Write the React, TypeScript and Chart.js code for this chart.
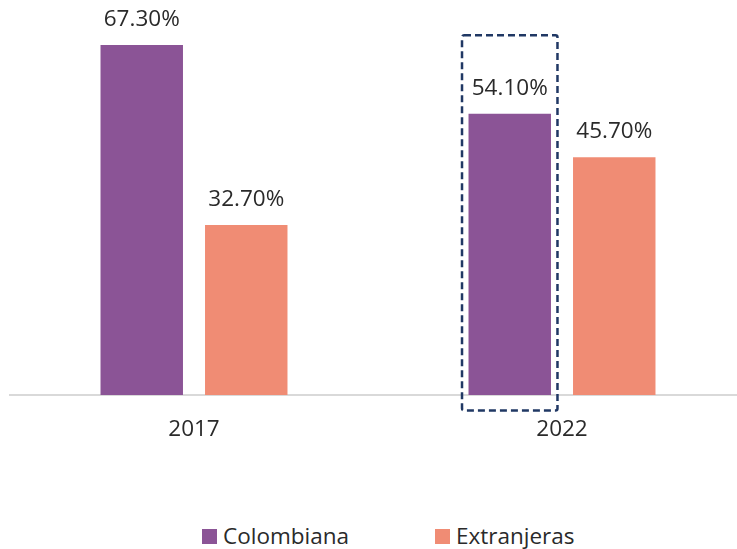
import React, { useEffect, useRef } from "react";
import { Chart, registerables } from "chart.js";

Chart.register(...registerables);

const categories = ["2017", "2022"];
const seriesNames = ["Colombiana", "Extranjeras"];
const colombiana = [67.3, 54.1];
const extranjeras = [32.7, 45.7];
const colors = ["#8B5496", "#F08C74"];
const highlightSeries = 0;
const highlightCategory = 1;

const FONT = "'Open Sans', 'Noto Sans', sans-serif";
const TEXT = "#2a2a2a";

const labelPlugin = {
  id: "valueLabels",
  afterDatasetsDraw(chart: any) {
    const ctx = chart.ctx;
    ctx.save();
    ctx.font = `22.5px ${FONT}`;
    ctx.fillStyle = TEXT;
    ctx.textAlign = "center";
    ctx.textBaseline = "alphabetic";
    chart.data.datasets.forEach((ds: any, di: number) => {
      const meta = chart.getDatasetMeta(di);
      meta.data.forEach((bar: any, i: number) => {
        const v = ds.data[i];
        ctx.fillText(v.toFixed(2) + "%", bar.x, bar.y - 19);
      });
    });
    // highlight box
    const meta = chart.getDatasetMeta(highlightSeries);
    const bar: any = meta.data[highlightCategory];
    if (bar) {
      const { x, y, width } = bar.getProps(["x", "y", "width"], true);
      const left = x - width / 2 - 6.5;
      const right = x + width / 2 + 6.5;
      const top = y - 78.5;
      const bottom = chart.chartArea.bottom + 15.5;
      ctx.strokeStyle = "#203864";
      ctx.lineWidth = 2.5;
      ctx.setLineDash([7, 4]);
      ctx.beginPath();
      if (ctx.roundRect) ctx.roundRect(left, top, right - left, bottom - top, 2);
      else ctx.rect(left, top, right - left, bottom - top);
      ctx.stroke();
    }
    ctx.restore();
  },
};

export default function App() {
  const ref = useRef<HTMLCanvasElement>(null);
  useEffect(() => {
    if (!ref.current) return;
    const chart = new Chart(ref.current, {
      type: "bar",
      data: {
        labels: categories,
        datasets: [
          {
            label: seriesNames[0],
            data: colombiana,
            backgroundColor: colors[0],
            categoryPercentage: 0.568,
            barPercentage: 0.789,
          },
          {
            label: seriesNames[1],
            data: extranjeras,
            backgroundColor: colors[1],
            categoryPercentage: 0.568,
            barPercentage: 0.789,
          },
        ],
      },
      options: {
        animation: false,
        responsive: false,
        maintainAspectRatio: false,
        layout: { padding: { top: 5, left: 10, right: 4, bottom: 0 } },
        plugins: { legend: { display: false }, tooltip: { enabled: false } },
        scales: {
          x: {
            grid: { display: false, drawTicks: false },
            border: { display: true, color: "#D9D9D9", width: 2 },
            ticks: {
              color: TEXT,
              font: { family: FONT, size: 22.5 },
              padding: 21,
              maxRotation: 0,
            },
            afterFit: (scale: any) => {
              scale.height = 75;
            },
          },
          y: {
            display: false,
            min: 0,
            max: 75,
          },
        },
      },
      plugins: [labelPlugin],
    });
    return () => chart.destroy();
  }, []);

  return (
    <div
      style={{
        position: "fixed",
        left: 0,
        top: 0,
        width: 737,
        height: 549,
        overflow: "hidden",
        background: "#fff",
      }}
    >
      <canvas ref={ref} width={750} height={470} style={{ position: "absolute", left: 0, top: 0 }} />
      {seriesNames.map((name, i) => (
        <div
          key={name}
          style={{
            position: "absolute",
            left: i === 0 ? 202 : 435,
            top: 525,
            height: 22,
            display: "flex",
            alignItems: "center",
            fontFamily: FONT,
            fontSize: 22.5,
            lineHeight: "22px",
            color: TEXT,
            whiteSpace: "nowrap",
          }}
        >
          <span style={{ display: "inline-block", width: 15, height: 15, background: colors[i], marginRight: 6 }} />
          <span>{name}</span>
        </div>
      ))}
    </div>
  );
}
